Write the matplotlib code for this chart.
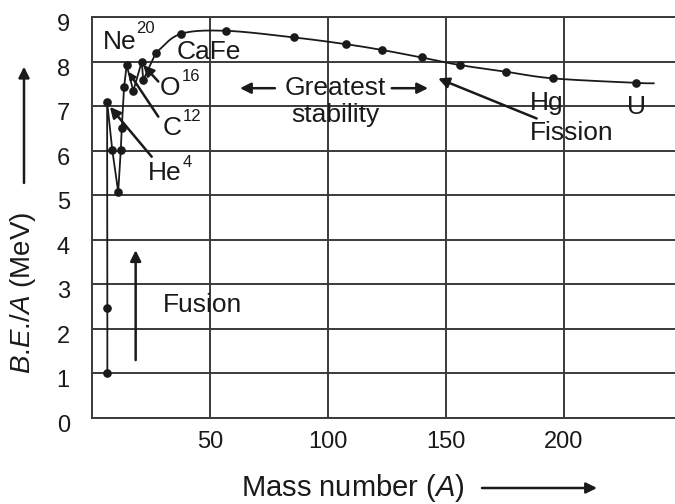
import numpy as np
import matplotlib
matplotlib.use("Agg")
import matplotlib.pyplot as plt
import matplotlib.transforms as mtransforms

plt.rcParams['font.family'] = ['Liberation Sans', 'DejaVu Sans']
plt.rcParams['mathtext.fontset'] = 'custom'
plt.rcParams['mathtext.rm'] = 'Liberation Sans'
plt.rcParams['mathtext.it'] = 'Liberation Sans:italic'

# values
mass = [6.5, 6.5, 6.4, 8.6, 11.1, 12.2, 12.6, 13.6, 14.7, 17.5, 21.1, 21.7, 27.1,
        37.6, 56.8, 85.7, 107.5, 122.8, 139.7, 155.9, 175.4, 195.5, 230.5]
bea = [0.99, 2.45, 7.09, 6.01, 5.07, 6.01, 6.5, 7.43, 7.92, 7.34, 8.0, 7.58, 8.2,
       8.62, 8.69, 8.54, 8.39, 8.26, 8.09, 7.92, 7.77, 7.62, 7.52]
curve_end = (238.0, 7.51)   # where the drawn line stops past U
n_jagged = 13               # light nuclei joined by straight segments

xticks = [50, 100, 150, 200]
yticks = list(range(0, 10))

ink = '#1a1a1a'
grid_col = '#3a3a3a'
fs_tick = 17
fs = 19       # labels inside the plot
fs_sup = 12   # mass-number superscripts


def catmull(xs, ys, steps=20):
    # smooth line through the heavy-nucleus points (drawing only)
    px = np.r_[2*xs[0]-xs[1], xs, 2*xs[-1]-xs[-2]]
    py = np.r_[2*ys[0]-ys[1], ys, 2*ys[-1]-ys[-2]]
    outx, outy = [], []
    t = np.linspace(0, 1, steps, endpoint=False)
    for i in range(1, len(px)-2):
        for p, out in ((px, outx), (py, outy)):
            p0, p1, p2, p3 = p[i-1], p[i], p[i+1], p[i+2]
            out.extend(0.5*((2*p1) + (-p0+p2)*t + (2*p0-5*p1+4*p2-p3)*t**2
                            + (-p0+3*p1-3*p2+p3)*t**3))
    outx.append(xs[-1])
    outy.append(ys[-1])
    return np.array(outx), np.array(outy)


fig = plt.figure(figsize=(6.75, 5.04), dpi=100)
ax = fig.add_axes([92/675, 86.5/504, 583/675, 400.5/504])
ax.set_xlim(0, 583/2.36)
ax.set_ylim(0, 9)

ax.set_xticks(xticks)
ax.set_yticks(yticks)
ax.tick_params(length=0, labelsize=fs_tick, colors=ink)
ax.tick_params(axis='x', pad=10)
ax.tick_params(axis='y', pad=16)
# y numbers sit a little below their lines in the original
shift = mtransforms.ScaledTranslation(0, -4/72, fig.dpi_scale_trans)
for lab in ax.get_yticklabels():
    lab.set_transform(lab.get_transform() + shift)
ax.grid(True, color=grid_col, lw=1.4)
ax.set_axisbelow(True)
for s in ['left', 'bottom', 'top']:
    ax.spines[s].set_color(grid_col)
    ax.spines[s].set_linewidth(1.4)
ax.spines['right'].set_visible(False)

# curve
ax.plot(mass[:n_jagged], bea[:n_jagged], color=ink, lw=1.3, zorder=3)
sx, sy = catmull(np.array(mass[n_jagged-1:] + [curve_end[0]]),
                 np.array(bea[n_jagged-1:] + [curve_end[1]]))
ax.plot(sx, sy, color=ink, lw=1.3, zorder=3)
ax.plot(mass, bea, 'o', color=ink, ms=5.2, zorder=4)

# element labels
ax.text(4.5, 8.44, 'Ne', fontsize=fs, va='center', ha='left', color=ink)
ax.text(18.9, 8.75, '20', fontsize=fs_sup, va='center', ha='left', color=ink)
ax.text(35.9, 8.22, 'CaFe', fontsize=fs, va='center', ha='left', color=ink)
ax.text(28.8, 7.40, 'O', fontsize=fs, va='center', ha='left', color=ink)
ax.text(38.0, 7.66, '16', fontsize=fs_sup, va='center', ha='left', color=ink)
ax.text(30.1, 6.51, 'C', fontsize=fs, va='center', ha='left', color=ink)
ax.text(38.6, 6.76, '12', fontsize=fs_sup, va='center', ha='left', color=ink)
ax.text(23.7, 5.49, 'He', fontsize=fs, va='center', ha='left', color=ink)
ax.text(38.6, 5.72, '4', fontsize=fs_sup, va='center', ha='left', color=ink)
ax.text(192.7, 7.06, 'Hg', fontsize=fs, va='center', ha='center', color=ink)
ax.text(230.8, 6.98, 'U', fontsize=fs, va='center', ha='center', color=ink)
ax.text(185.6, 6.39, 'Fission', fontsize=fs, va='center', ha='left', color=ink)
ax.text(103.3, 7.40, 'Greatest', fontsize=fs, va='center', ha='center', color=ink)
ax.text(103.3, 6.80, 'stability', fontsize=fs, va='center', ha='center', color=ink)
ax.text(29.9, 2.53, 'Fusion', fontsize=fs, va='center', ha='left', color=ink)

arr = dict(arrowstyle='-|>', color=ink, lw=1.8, mutation_scale=16, shrinkA=0, shrinkB=0)
ax.annotate('', xy=(21.7, 7.92), xytext=(28.1, 7.55), arrowprops=arr)
ax.annotate('', xy=(15.4, 7.77), xytext=(28.1, 6.76),
            arrowprops=dict(arr, mutation_scale=10))
ax.annotate('', xy=(7.6, 6.98), xytext=(25.3, 5.86), arrowprops=arr)
ax.annotate('', xy=(146.7, 7.62), xytext=(188.4, 6.72), arrowprops=arr)
ax.annotate('', xy=(62.7, 7.40), xytext=(77.5, 7.40), arrowprops=arr)
ax.annotate('', xy=(142.4, 7.40), xytext=(127.0, 7.40), arrowprops=arr)
ax.annotate('', xy=(18.5, 3.76), xytext=(18.5, 1.29), arrowprops=arr)

# axis labels with arrows
fig.text(23.5/675, (504-293)/504, r'$B$.$E$./$A$ (MeV)', rotation=90,
         fontsize=20, ha='center', va='center', color=ink)
fig.text(352.5/675, (504-488)/504, r'Mass number ($A$)',
         fontsize=21, ha='center', va='center', color=ink)
ax.annotate('', xy=(24/675, (504-66.7)/504), xytext=(24/675, (504-183)/504),
            xycoords='figure fraction', textcoords='figure fraction', arrowprops=arr)
ax.annotate('', xy=(597/675, (504-488)/504), xytext=(482/675, (504-488)/504),
            xycoords='figure fraction', textcoords='figure fraction', arrowprops=arr)

fig.savefig('out.png', dpi=100)
